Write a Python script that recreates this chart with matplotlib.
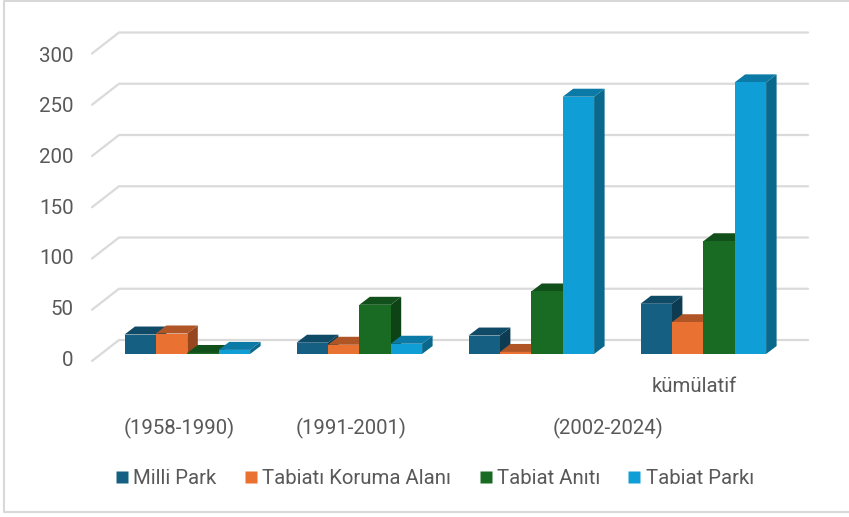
import matplotlib
matplotlib.use("Agg")
import matplotlib.pyplot as plt
from matplotlib.patches import Polygon
from matplotlib.lines import Line2D

categories = ["(1958-1990)", "(1991-2001)", "(2002-2024)", "kümülatif"]
series_names = ["Milli Park", "Tabiatı Koruma Alanı", "Tabiat Anıtı", "Tabiat Parkı"]
milli_park = [19, 11, 18, 49]
koruma_alani = [20, 9, 2, 31]
tabiat_aniti = [1, 48, 61, 110]
tabiat_parki = [4, 10, 251, 265]
y_ticks = [0, 50, 100, 150, 200, 250, 300]

face_colors = ["#156082", "#E97132", "#196B24", "#0F9ED5"]
top_colors = ["#0F4A67", "#B05526", "#12501B", "#0B7AA6"]
side_colors = ["#0C3B52", "#96471F", "#0E4316", "#09688C"]
TEXT = "#595959"
GRID = "#DADADA"

W, H = 849, 517
plt.rcParams["font.family"] = ["Roboto", "DejaVu Sans"]
fig = plt.figure(figsize=(W / 100, H / 100), dpi=100, facecolor="white")

def box(l, t, r, b):
    return [l / W, (H - b) / H, (r - l) / W, (b - t) / H]

# Front plane of the bars
ax = fig.add_axes(box(92, 46.5, 808, 354))
group_step = 172.0
first_center = 187.3
ax.set_xlim((92 - first_center) / group_step, (808 - first_center) / group_step)
ax.set_ylim(0, 300)
ax.axis("off")
px_x = 1 / group_step
px_y = 300 / (354 - 46.5)

# Perspective gridlines
wall_dx, front_drop, back_rise = 27 * px_x, 7 * px_y, 14 * px_y
x0, x1 = ax.get_xlim()
for v in y_ticks:
    ax.plot([x0, x0 + wall_dx, x1], [v - front_drop, v + back_rise, v + back_rise],
            color=GRID, lw=1.6, clip_on=False, zorder=1, solid_capstyle="round")

# Bars with depth
bar_w = 31.4 * px_x
depth_x, depth_y = 10.5 * px_x, 8 * px_y
all_series = [milli_park, koruma_alani, tabiat_aniti, tabiat_parki]
z = 2
for g in range(len(categories)):
    for s, values in enumerate(all_series):
        v = values[g]
        left = g + (s - 2) * bar_w
        right = left + bar_w
        ax.add_patch(Polygon([(right, 0), (right + depth_x, depth_y),
                              (right + depth_x, v + depth_y), (right, v)],
                             closed=True, fc=side_colors[s], ec="none", zorder=z, clip_on=False))
        ax.add_patch(Polygon([(left, v), (left + depth_x, v + depth_y),
                              (right + depth_x, v + depth_y), (right, v)],
                             closed=True, fc=top_colors[s], ec="none", zorder=z, clip_on=False))
        ax.bar(left, v, width=bar_w, align="edge", color=face_colors[s], zorder=z + 0.5, clip_on=False)
        z += 1

# Y tick labels
lab = fig.add_axes(box(80, 54, 808, 358))
lab.set_ylim(0, 300)
lab.set_xticks([])
lab.set_yticks(y_ticks)
lab.tick_params(axis="y", length=0, pad=4.5, labelsize=14.8, labelcolor=TEXT)
lab.patch.set_alpha(0)
for sp in lab.spines.values():
    sp.set_visible(False)

# Category labels
label_px = [(179, 428), (351, 428), (608, 428), (694, 387)]
for name, (px, py) in zip(categories, label_px):
    fig.text(px / W, (H - py) / H, name, ha="center", va="center", color=TEXT, fontsize=14.7)

# Legend
handles = [Line2D([], [], ls="none", marker="s", ms=8.5, mfc=c, mec="none") for c in face_colors]
fig.legend(handles, series_names, ncol=4, frameon=False, loc="center",
           bbox_to_anchor=(435 / W, (H - 478.5) / H), fontsize=14.7, labelcolor=TEXT,
           handletextpad=0.25, columnspacing=1.38, handlelength=0.6, borderpad=0)

# Outer frame: left, top and bottom edges only
frame_x = [849 / W, 4 / W, 4 / W, 849 / W]
frame_y = [(H - 1) / H, (H - 1) / H, (H - 512) / H, (H - 512) / H]
fig.add_artist(Line2D(frame_x, frame_y, transform=fig.transFigure, color="#D8D8D8", lw=1.5))

fig.savefig("out.png", dpi=100)
